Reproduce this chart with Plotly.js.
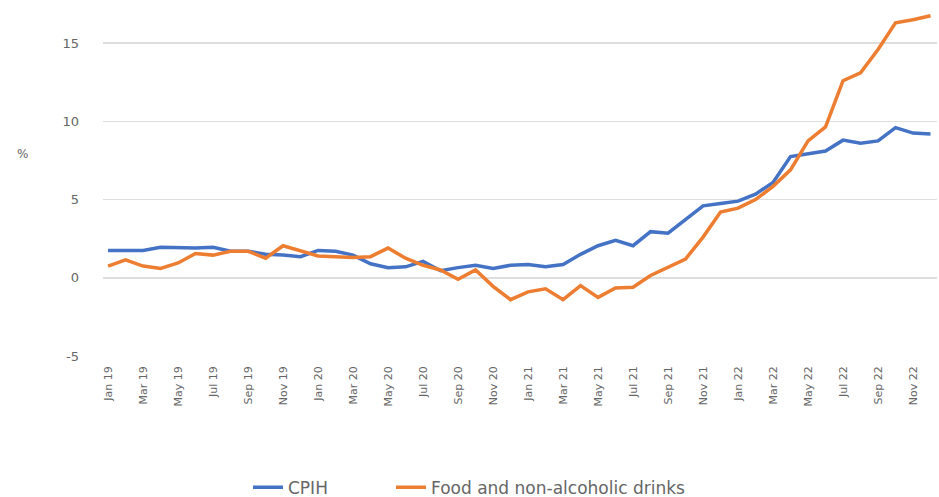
<!DOCTYPE html>
<html>
<head>
<meta charset="utf-8">
<script src="https://cdn.plot.ly/plotly-3.0.1.min.js"></script>
<style>
  html, body { margin: 0; padding: 0; background: #ffffff; }
  #chart { width: 939px; height: 497px; }
</style>
</head>
<body>
<div id="chart"></div>
<script>
// Monthly labels, Jan 2019 to Dec 2022
const months = [
  "Jan 19","Feb 19","Mar 19","Apr 19","May 19","Jun 19","Jul 19","Aug 19","Sep 19","Oct 19","Nov 19","Dec 19",
  "Jan 20","Feb 20","Mar 20","Apr 20","May 20","Jun 20","Jul 20","Aug 20","Sep 20","Oct 20","Nov 20","Dec 20",
  "Jan 21","Feb 21","Mar 21","Apr 21","May 21","Jun 21","Jul 21","Aug 21","Sep 21","Oct 21","Nov 21","Dec 21",
  "Jan 22","Feb 22","Mar 22","Apr 22","May 22","Jun 22","Jul 22","Aug 22","Sep 22","Oct 22","Nov 22","Dec 22"
];

// Annual rates, %
const cpih = [
  1.75, 1.75, 1.75, 1.95, 1.9, 1.9, 1.95, 1.7, 1.7, 1.5, 1.45, 1.35,
  1.75, 1.7, 1.45, 0.9, 0.65, 0.7, 1.05, 0.45, 0.65, 0.8, 0.6, 0.8,
  0.85, 0.7, 0.85, 1.5, 2.05, 2.4, 2.05, 2.95, 2.85, 3.75, 4.6, 4.75,
  4.9, 5.35, 6.1, 7.75, 7.9, 8.1, 8.8, 8.6, 8.75, 9.6, 9.25, 9.2
];

const foodDrinks = [
  0.75, 1.15, 0.75, 0.6, 0.95, 1.55, 1.45, 1.7, 1.7, 1.25, 2.05, 1.7,
  1.4, 1.35, 1.3, 1.35, 1.9, 1.25, 0.8, 0.5, -0.1, 0.5, -0.55, -1.4,
  -0.9, -0.7, -1.4, -0.5, -1.25, -0.65, -0.6, 0.15, 0.7, 1.2, 2.6, 4.2,
  4.45, 5.0, 5.85, 6.9, 8.75, 9.65, 12.6, 13.1, 14.6, 16.3, 16.5, 16.75
];

// Every second month gets a tick label
const tickMonths = months.filter((m, i) => i % 2 === 0);
const yTicks = [-5, 0, 5, 10, 15];

const labelColor = "#666666";
const fontFamily = "'DejaVu Sans', 'Noto Sans', sans-serif";

// Plot area spans 834px horizontally, starting 103px from the left edge
const px = (p) => (p - 103) / 834;

const traces = [
  {
    x: months, y: cpih, name: "CPIH", type: "scatter", mode: "lines",
    line: { color: "#4472C4", width: 3.5 },
    legend: "legend"
  },
  {
    x: months, y: foodDrinks, name: "Food and non-alcoholic drinks", type: "scatter", mode: "lines",
    line: { color: "#ED7D31", width: 3.5 },
    legend: "legend2"
  }
];

const legendBase = {
  orientation: "h",
  xanchor: "left",
  y: -0.37, yanchor: "middle",
  font: { size: 17, color: labelColor },
  bgcolor: "rgba(0,0,0,0)"
};

const layout = {
  width: 939, height: 497,
  margin: { l: 103, r: 2, t: 0, b: 141, autoexpand: false },
  paper_bgcolor: "#ffffff",
  plot_bgcolor: "#ffffff",
  font: { family: fontFamily, size: 11, color: labelColor },
  showlegend: true,
  legend: Object.assign({}, legendBase, { x: px(248) }),
  legend2: Object.assign({}, legendBase, { x: px(391) }),
  xaxis: {
    type: "category",
    range: [-0.29, 47.37],
    tickmode: "array",
    tickvals: tickMonths,
    ticktext: tickMonths,
    tickangle: -90,
    ticks: "",
    ticklabelstandoff: 7,
    showgrid: false,
    zeroline: false,
    showline: false,
    tickfont: { size: 11, color: labelColor }
  },
  yaxis: {
    range: [-5, 17.76],
    tickmode: "array",
    tickvals: yTicks,
    ticktext: yTicks.map(String),
    showgrid: true,
    gridcolor: "#dedede",
    gridwidth: 1.5,
    zeroline: false,
    showline: false,
    ticks: "",
    ticklabelstandoff: 23,
    tickfont: { size: 13, color: labelColor }
  },
  annotations: [
    {
      text: "%", xref: "paper", yref: "paper",
      x: px(22), y: (356 - 154) / 356,
      xanchor: "center", yanchor: "middle",
      showarrow: false,
      font: { size: 12, color: labelColor }
    }
  ]
};

Plotly.newPlot("chart", traces, layout, { displayModeBar: false, staticPlot: true });
</script>
</body>
</html>
